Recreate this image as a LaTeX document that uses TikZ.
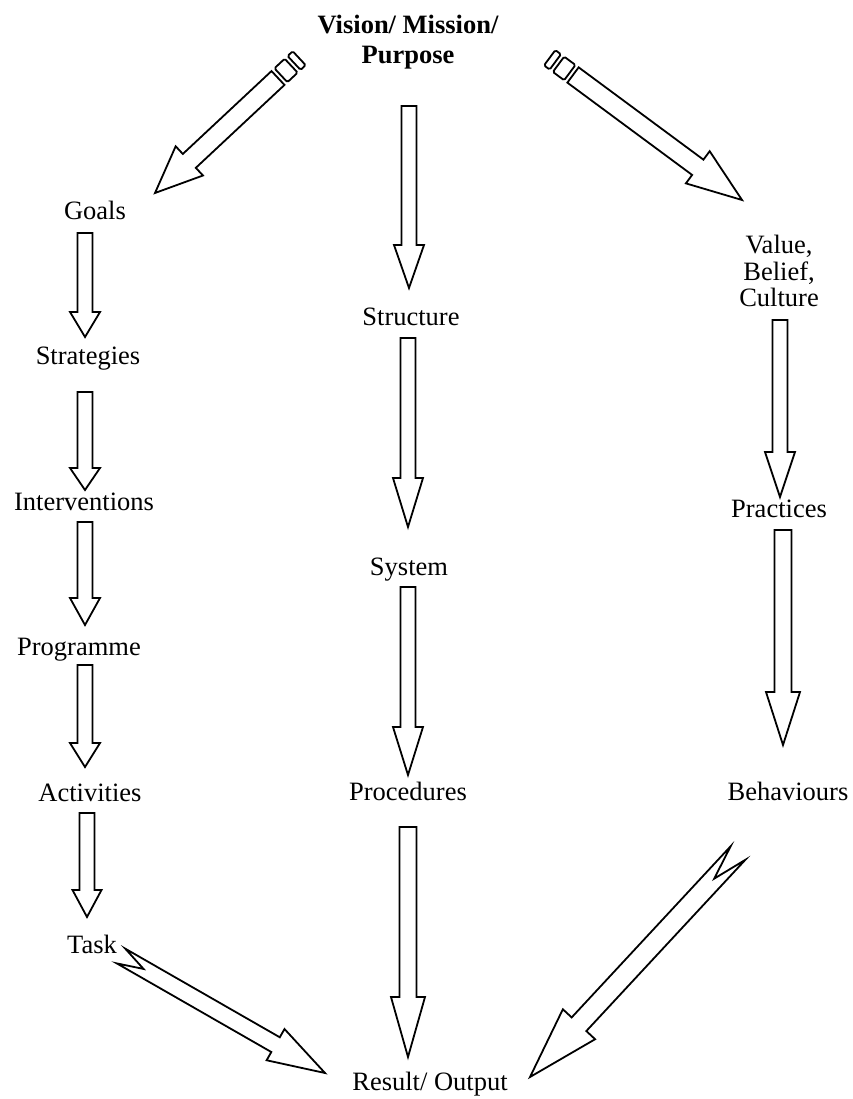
\documentclass[tikz,border=0pt]{standalone}
\usepackage{fontspec}
\setmainfont{Liberation Serif}
\usetikzlibrary{calc}
\tikzset{
  lbl/.style={font=\fontsize{26.5}{30}\selectfont, anchor=base, inner sep=0pt},
  ttl/.style={font=\fontsize{26.5}{30}\selectfont\bfseries, anchor=base, inner sep=0pt},
  barrowline/.style={draw=black, line width=1.8pt, line join=miter, fill=white},
}
% block arrow: tail, tip, shaft half width, head half width, head length
\newcommand{\blockarrow}[5]{%
  \coordinate (hb) at ($(#2)!#5!(#1)$);
  \draw[barrowline] ($(#1)!#3!90:(#2)$) -- ($(hb)!#3!90:(#2)$) -- ($(hb)!#4!90:(#2)$) -- (#2)
    -- ($(hb)!#4!-90:(#2)$) -- ($(hb)!#3!-90:(#2)$) -- ($(#1)!#3!-90:(#2)$) -- cycle;}
% striped-tail block arrow
\newcommand{\stripearrow}[5]{%
  \blockarrow{#1}{#2}{#3}{#4}{#5}
  \coordinate (sa) at ($(#1)!-4pt!(#2)$);
  \coordinate (sb) at ($(#1)!-18pt!(#2)$);
  \coordinate (sc) at ($(#1)!-22pt!(#2)$);
  \coordinate (sd) at ($(#1)!-29pt!(#2)$);
  \draw[barrowline, rounded corners=1.5pt] ($(sa)!#3!90:(#2)$) -- ($(sb)!#3!90:(#2)$)
    -- ($(sb)!#3!-90:(#2)$) -- ($(sa)!#3!-90:(#2)$) -- cycle;
  \draw[barrowline, rounded corners=1.5pt] ($(sc)!#3!90:(#2)$) -- ($(sd)!#3!90:(#2)$)
    -- ($(sd)!#3!-90:(#2)$) -- ($(sc)!#3!-90:(#2)$) -- cycle;}
% notched-tail block arrow: ... , notch depth
\newcommand{\notcharrow}[6]{%
  \coordinate (hb) at ($(#2)!#5!(#1)$);
  \coordinate (nt) at ($(#1)!#6!(#2)$);
  \draw[barrowline] ($(#1)!#3!90:(#2)$) -- ($(hb)!#3!90:(#2)$) -- ($(hb)!#4!90:(#2)$) -- (#2)
    -- ($(hb)!#4!-90:(#2)$) -- ($(hb)!#3!-90:(#2)$) -- ($(#1)!#3!-90:(#2)$) -- (nt) -- cycle;}
\begin{document}
\begin{tikzpicture}[x=1pt, y=-1pt]
\useasboundingbox[fill=white] (0,0) rectangle (852,1099);

% ---- labels ----
\node[ttl] (title1) at (408,34) {Vision/ Mission/};
\node[ttl] (title2) at (408,64) {Purpose};

\node[lbl] (goals) at (95,220) {Goals};
\node[lbl] (strat) at (88,364) {Strategies};
\node[lbl] (interv) at (84,510) {Interventions};
\node[lbl] (prog) at (79,655) {Programme};
\node[lbl] (activ) at (90,801) {Activities};
\node[lbl] (task) at (92,953) {Task};

\node[lbl] (struct) at (411,325) {Structure};
\node[lbl] (system) at (409,575) {System};
\node[lbl] (proc) at (408,800) {Procedures};
\node[lbl] (result) at (430,1090) {Result/ Output};

\node[lbl] (value) at (779,253) {Value,};
\node[lbl] (belief) at (779,280) {Belief,};
\node[lbl] (culture) at (779,306) {Culture};
\node[lbl] (pract) at (779,517) {Practices};
\node[lbl] (behav) at (788,800) {Behaviours};

% ---- arrow end points ----
\coordinate (tlS) at (278,78);  \coordinate (tlE) at (155,193);
\coordinate (trS) at (573,75);  \coordinate (trE) at (742,200);
\coordinate (m1S) at (409,106); \coordinate (m1E) at (409,288);
\coordinate (m2S) at (408,338); \coordinate (m2E) at (408,527);
\coordinate (m3S) at (408,587); \coordinate (m3E) at (408,775);
\coordinate (m4S) at (408,827); \coordinate (m4E) at (408,1057);
\coordinate (a1S) at (85,233);  \coordinate (a1E) at (85,337);
\coordinate (a2S) at (85,392);  \coordinate (a2E) at (85,490);
\coordinate (a3S) at (85,522);  \coordinate (a3E) at (85,625);
\coordinate (a4S) at (85,665);  \coordinate (a4E) at (85,767);
\coordinate (a5S) at (87,813);  \coordinate (a5E) at (87,917);
\coordinate (r1S) at (780,320); \coordinate (r1E) at (780,497);
\coordinate (r2S) at (783,530); \coordinate (r2E) at (783,745);
\coordinate (blS) at (121,956); \coordinate (blE) at (325,1073);
\coordinate (brS) at (738,853); \coordinate (brE) at (530,1077);

% ---- arrows ----
\stripearrow{tlS}{tlE}{9.5pt}{20pt}{47pt}
\stripearrow{trS}{trE}{9.5pt}{20pt}{55pt}

\blockarrow{m1S}{m1E}{7.5pt}{15pt}{43pt}
\blockarrow{m2S}{m2E}{7.5pt}{15pt}{49pt}
\blockarrow{m3S}{m3E}{7.5pt}{15pt}{48pt}
\blockarrow{m4S}{m4E}{8.5pt}{17pt}{60pt}

\blockarrow{a1S}{a1E}{7.5pt}{15pt}{25pt}
\blockarrow{a2S}{a2E}{7.5pt}{15pt}{22pt}
\blockarrow{a3S}{a3E}{7.5pt}{15pt}{27pt}
\blockarrow{a4S}{a4E}{7.5pt}{15pt}{24pt}
\blockarrow{a5S}{a5E}{7.5pt}{14.5pt}{27pt}

\blockarrow{r1S}{r1E}{7.5pt}{15pt}{45pt}
\blockarrow{r2S}{r2E}{8.5pt}{17pt}{53pt}

\notcharrow{blS}{blE}{8.5pt}{18pt}{57pt}{26pt}
\notcharrow{brS}{brE}{10pt}{22pt}{72pt}{35pt}
\end{tikzpicture}
\end{document}
